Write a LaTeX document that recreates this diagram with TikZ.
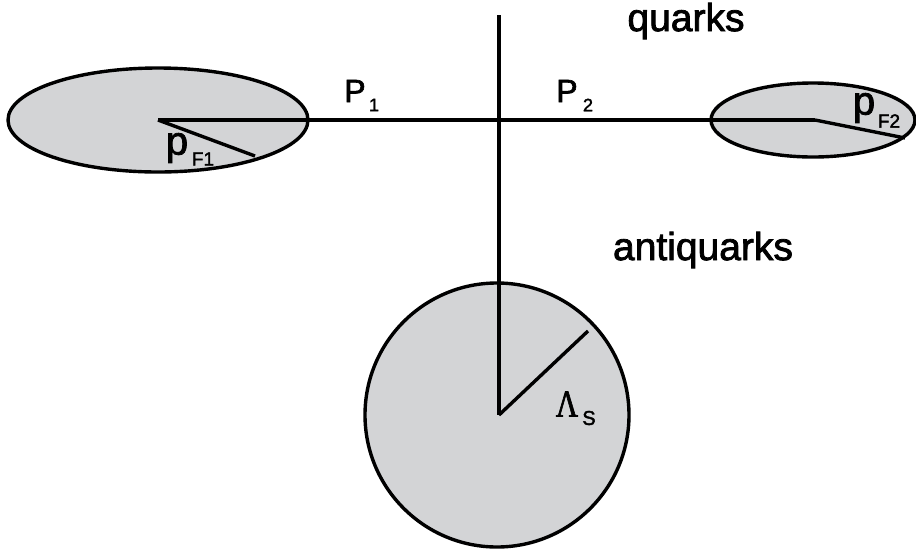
\documentclass[tikz,border=0pt]{standalone}
\usepackage{fontspec}
\newfontfamily\heavy{Liberation Sans}[FakeBold=2]
\newfontfamily\serifgr{Liberation Serif}[FakeBold=2]
\usetikzlibrary{shapes.geometric}
\definecolor{blobgray}{RGB}{211,212,214}
\begin{document}
\begin{tikzpicture}[x=1pt,y=-1pt,
  blob/.style={draw=black,fill=blobgray,line width=3.4pt,inner sep=0pt},
  ln/.style={line width=3.4pt,black},
  lbl/.style={inner sep=0pt,font=\heavy\fontsize{39}{44}\selectfont},
  big/.style={inner sep=0pt,font=\heavy\fontsize{32}{36}\selectfont},
  sub/.style={inner sep=0pt,font=\heavy\fontsize{18}{20}\selectfont}]
\useasboundingbox (0,0) rectangle (916,550);
% blobs
\node[blob,ellipse,minimum width=300pt,minimum height=104pt] (L) at (158,120) {};
\node[blob,ellipse,minimum width=204pt,minimum height=74pt] (R) at (813,120) {};
\node[blob,circle,minimum size=264pt] (C) at (497,415) {};
% coordinates
\coordinate (lc) at (158,120);
\coordinate (rc) at (815,120);
\coordinate (cc) at (499,415);
\coordinate (top) at (499,15);
\coordinate (lr) at (255,156);
\coordinate (rr) at (905,138);
\coordinate (cr) at (588,331);
% lines
\draw[ln] (lc) -- (rc);
\draw[ln] (top) -- (cc);
\draw[ln] (lc) -- (lr);
\draw[ln] (rc) -- (rr);
\draw[ln] (cc) -- (cr);
% labels
\node[lbl] (q) at (686,21) {quarks};
\node[lbl] (aq) at (703,250) {antiquarks};
\node[big] (p1) at (355,91) {P};
\node[sub] (p1s) at (374,105) {1};
\node[big] (p2) at (567,91) {P};
\node[sub] (p2s) at (588,105) {2};
\node[inner sep=0pt,font=\heavy\fontsize{40}{44}\selectfont] (pf1) at (177,148) {p};
\node[sub,font=\heavy\fontsize{19}{22}\selectfont] (pf1s) at (203,159) {F1};
\node[inner sep=0pt,font=\heavy\fontsize{40}{44}\selectfont] (pf2) at (864,108) {p};
\node[sub,font=\heavy\fontsize{19}{22}\selectfont] (pf2s) at (889,121) {F2};
\node[inner sep=0pt,xscale=0.8,font=\serifgr\fontsize{38}{42}\selectfont] (lam) at (567,404) {Λ};
\node[sub,font=\heavy\fontsize{20}{22}\selectfont] (lams) at (589,418) {S};
\end{tikzpicture}
\end{document}
